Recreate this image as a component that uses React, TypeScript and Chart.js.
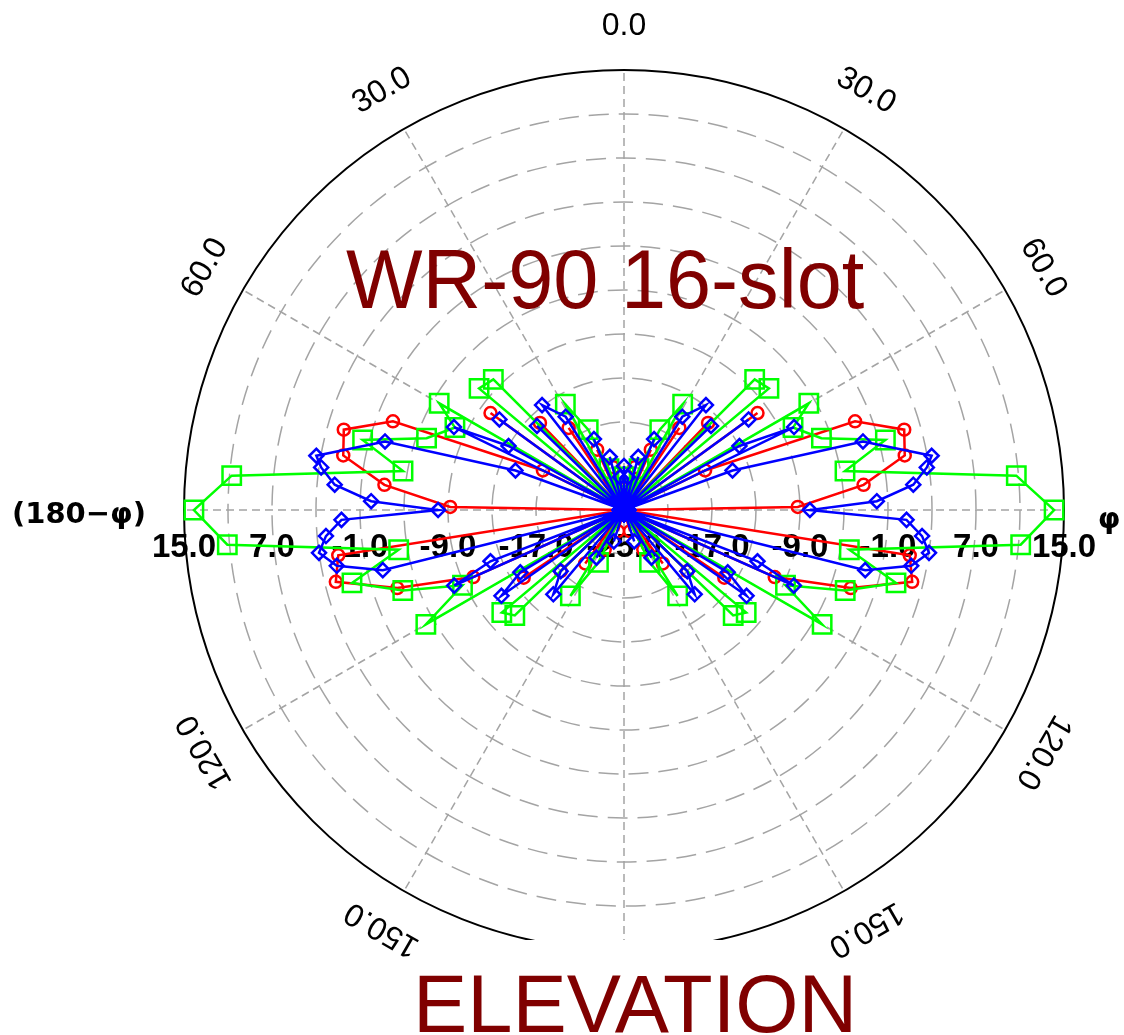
import { useEffect, useRef } from "react";
import { Chart, registerables } from "chart.js";

Chart.register(...registerables);

const W = 1124;
const H = 1035;

// radial scale (dB)
const R_MIN = -25;
const R_MAX = 15;
const R_STEP = 4;
const RADIAL_LABEL_VALUES = [15, 7, -1, -9, -17];
const RADIAL_LABELS = ["15.0", "7.0", "-1.0", "-9.0", "-17.0"];
const CENTER_LABEL = "-25.0";

// angular labels (degrees, mirrored on the left side)
const ANGLE_LABEL_DEG = [0, 30, 60, 120, 150];
const ANGLE_LABELS = ["0.0", "30.0", "60.0", "120.0", "150.0"];
const SPOKE_DEG = [0, 30, 60, 90, 120, 150, 180, 210, 240, 270, 300, 330];

const TITLE = "WR-90 16-slot";
const X_TITLE = "ELEVATION";
const LEFT_AXIS = "(180\u2212\u03C6)";
const RIGHT_AXIS = "\u03C6";

// series: angle (deg, 0..180 on the φ side, mirrored to 180-φ side) and level (dB)
const greenAngles = [0, 5, 10, 15, 20, 24, 29, 35, 40, 45, 50, 55, 60, 64, 70, 75, 80, 85, 90, 95, 100, 105, 110, 115, 120, 125, 130, 134, 140, 145, 148, 154, 160, 170, 180];
const greenDb = [-22, -25, -23, -25, -21, -17, -14, -25, -25, -8.2, -7.8, -25, -5.6, -7.9, -5.9, -0.4, -4.6, 10.8, 14.1, 11.2, -4.2, 0.6, -3.6, -8.8, -4.2, -25, -10.5, -11.2, -25, -25, -15.8, -19.7, -25, -25, -25];

const redAngles = [0, 4, 9, 14, 19, 24, 29, 34, 39, 44, 49, 54, 59, 64, 69, 74, 79, 84, 89, 94, 99, 104, 109, 114, 119, 124, 129, 134, 139, 144, 149, 154, 159, 164, 169, 174, 180];
const redDb = [-25, -23, -25, -21, -25, -19, -25, -16, -25, -14, -25, -10, -25, -16.8, -2.5, 1.5, 1.0, -3.1, -9.2, -25, 1.3, 2.0, -3.2, -10, -25, -14, -25, -17, -25, -19, -25, -21, -25, -23, -25, -25, -25];

const blueAngles = [0, 3, 7, 11, 15, 19, 23, 27, 32, 38, 42, 46, 50, 54, 58, 61, 64, 67, 70, 74, 80, 82, 85, 88, 90, 92, 95, 98, 101, 104, 108, 111, 114, 118, 121, 125, 129, 134, 140, 145, 150, 156, 162, 168, 174, 180];
const blueDb = [-21, -25, -22, -25, -20, -25, -18, -25, -15, -12.9, -25, -14, -25, -11, -25, -13, -7.8, -25, -14.5, -2.4, 3.4, 2.8, 1.4, -2, -8.1, 0.7, 2.2, 3.0, 1.6, -2.4, -25, -12, -8.1, -25, -14, -11.4, -25, -17, -15, -25, -20, -25, -22, -25, -25, -25];

const CATEGORY_COUNT = 360;
const labels = Array.from({ length: CATEGORY_COUNT }, (_, i) => String(i));

function mirror(angles: number[], values: number[]) {
  const arr: (number | null)[] = new Array(CATEGORY_COUNT).fill(null);
  angles.forEach((a, i) => {
    arr[a] = values[i];
    if (a > 0 && a < 180) arr[360 - a] = values[i];
  });
  return arr;
}

function drawFitted(ctx: CanvasRenderingContext2D, text: string, font: string, cx: number, baseline: number, targetW: number) {
  ctx.save();
  ctx.font = font;
  ctx.textAlign = "left";
  ctx.textBaseline = "alphabetic";
  const m = ctx.measureText(text);
  const inkW = m.actualBoundingBoxLeft + m.actualBoundingBoxRight;
  const sx = targetW / inkW;
  ctx.translate(cx, baseline);
  ctx.scale(sx, 1);
  ctx.fillText(text, -(m.actualBoundingBoxRight - m.actualBoundingBoxLeft) / 2, 0);
  ctx.restore();
}

const CLIP_Y = 940;

const polarDecor = {
  id: "polarDecor",
  beforeDatasetsDraw(chart: any) {
    const ctx: CanvasRenderingContext2D = chart.ctx;
    const s = chart.scales.r;
    const cx = s.xCenter;
    const cy = s.yCenter;
    const outer = s.getDistanceFromCenterForValue(R_MAX);
    const pt = (deg: number, d: number) => {
      const a = (deg * Math.PI) / 180 - Math.PI / 2;
      return [cx + Math.cos(a) * d, cy + Math.sin(a) * d];
    };

    ctx.save();
    ctx.beginPath();
    ctx.rect(0, 0, W, CLIP_Y);
    ctx.clip();
    // rings
    ctx.strokeStyle = "#a4a4a4";
    ctx.lineWidth = 1.5;
    ctx.setLineDash([20, 10]);
    for (let v = R_MIN + R_STEP; v < R_MAX; v += R_STEP) {
      const d = s.getDistanceFromCenterForValue(v);
      ctx.beginPath();
      ctx.arc(cx, cy, d, 0, Math.PI * 2);
      ctx.stroke();
    }
    // spokes
    ctx.setLineDash([8, 5]);
    for (const a of SPOKE_DEG) {
      const [x, y] = pt(a, outer);
      ctx.beginPath();
      ctx.moveTo(cx, cy);
      ctx.lineTo(x, y);
      ctx.stroke();
    }
    // outer circle
    ctx.setLineDash([]);
    ctx.strokeStyle = "#000";
    ctx.lineWidth = 2;
    ctx.beginPath();
    ctx.arc(cx, cy, outer, 0, Math.PI * 2);
    ctx.stroke();
    ctx.restore();

    // angular labels
    ctx.save();
    ctx.fillStyle = "#000";
    ctx.font = "32px 'Liberation Sans'";
    ctx.textAlign = "center";
    ctx.textBaseline = "middle";
    ANGLE_LABEL_DEG.forEach((deg, i) => {
      const sides = deg === 0 ? [0] : [deg, -deg];
      for (const a of sides) {
        const [x, y] = pt(a, outer + 44);
        ctx.save();
        ctx.translate(x, y);
        ctx.rotate((a * Math.PI) / 180);
        ctx.fillText(ANGLE_LABELS[i], 0, 0);
        ctx.restore();
      }
    });
    ctx.restore();

    // radial labels along the horizontal axis
    ctx.save();
    ctx.fillStyle = "#000";
    ctx.font = "bold 33px 'Liberation Sans'";
    ctx.textAlign = "center";
    ctx.textBaseline = "alphabetic";
    RADIAL_LABEL_VALUES.forEach((v, i) => {
      const d = s.getDistanceFromCenterForValue(v);
      ctx.fillText(RADIAL_LABELS[i], cx - d, cy + 47);
      ctx.fillText(RADIAL_LABELS[i], cx + d, cy + 47);
    });
    ctx.fillText(CENTER_LABEL, cx, cy + 47);
    // axis names
    ctx.font = "bold 29px 'DejaVu Sans'";
    ctx.fillText(LEFT_AXIS, 79, cy + 13);
    ctx.fillText(RIGHT_AXIS, 1109, cy + 18);
    ctx.restore();

    // titles
    ctx.save();
    ctx.fillStyle = "#800000";
    drawFitted(ctx, TITLE, "84px 'Liberation Sans'", 605, 308, 518);
    drawFitted(ctx, X_TITLE, "82px 'Liberation Sans'", 635, 1032, 432);
    ctx.restore();
  },
};

export default function App() {
  const ref = useRef<HTMLCanvasElement>(null);
  useEffect(() => {
    const canvas = ref.current;
    if (!canvas) return;
    const hollow = "rgba(0,0,0,0)";
    const atFloor = (c: any) => c.raw !== null && c.raw !== undefined && c.raw <= R_MIN;
    const chart = new Chart(canvas, {
      type: "radar",
      data: {
        labels,
        datasets: [
          {
            label: "blue",
            data: mirror(blueAngles, blueDb),
            borderColor: "#0000ff",
            borderWidth: 2.5,
            fill: false,
            spanGaps: true,
            pointStyle: "rectRot",
            pointRadius: (c: any) => (atFloor(c) ? 11 : 7),
            pointBorderWidth: 2.5,
            pointBorderColor: "#0000ff",
            pointBackgroundColor: (c: any) => (atFloor(c) ? "#0000ff" : hollow),
            clip: false,
          },
          {
            label: "green",
            data: mirror(greenAngles, greenDb),
            borderColor: "#00ff00",
            borderWidth: 2.5,
            fill: false,
            spanGaps: true,
            pointStyle: "rect",
            pointRadius: 13,
            pointBorderWidth: 2.5,
            pointBorderColor: "#00ff00",
            pointBackgroundColor: hollow,
            clip: false,
          },
          {
            label: "red",
            data: mirror(redAngles, redDb),
            borderColor: "#ff0000",
            borderWidth: 2.5,
            fill: false,
            spanGaps: true,
            pointStyle: "circle",
            pointRadius: 6,
            pointBorderWidth: 2.5,
            pointBorderColor: "#ff0000",
            pointBackgroundColor: hollow,
            clip: false,
          },
        ] as any,
      },
      options: {
        responsive: false,
        animation: false,
        layout: { padding: { left: 184, right: 60, top: 70, bottom: 85 } },
        plugins: { legend: { display: false }, tooltip: { enabled: false } },
        elements: { line: { tension: 0 } },
        scales: {
          r: {
            min: R_MIN,
            max: R_MAX,
            startAngle: 0,
            ticks: { display: false, stepSize: R_STEP },
            grid: { display: false },
            angleLines: { display: false },
            pointLabels: { display: false },
          },
        },
      },
      plugins: [polarDecor],
    });
    return () => chart.destroy();
  }, []);
  return (
    <div style={{ position: "fixed", left: 0, top: 0, width: W, height: H, background: "#fff" }}>
      <canvas ref={ref} width={W} height={H} style={{ display: "block", width: W, height: H }} />
    </div>
  );
}
